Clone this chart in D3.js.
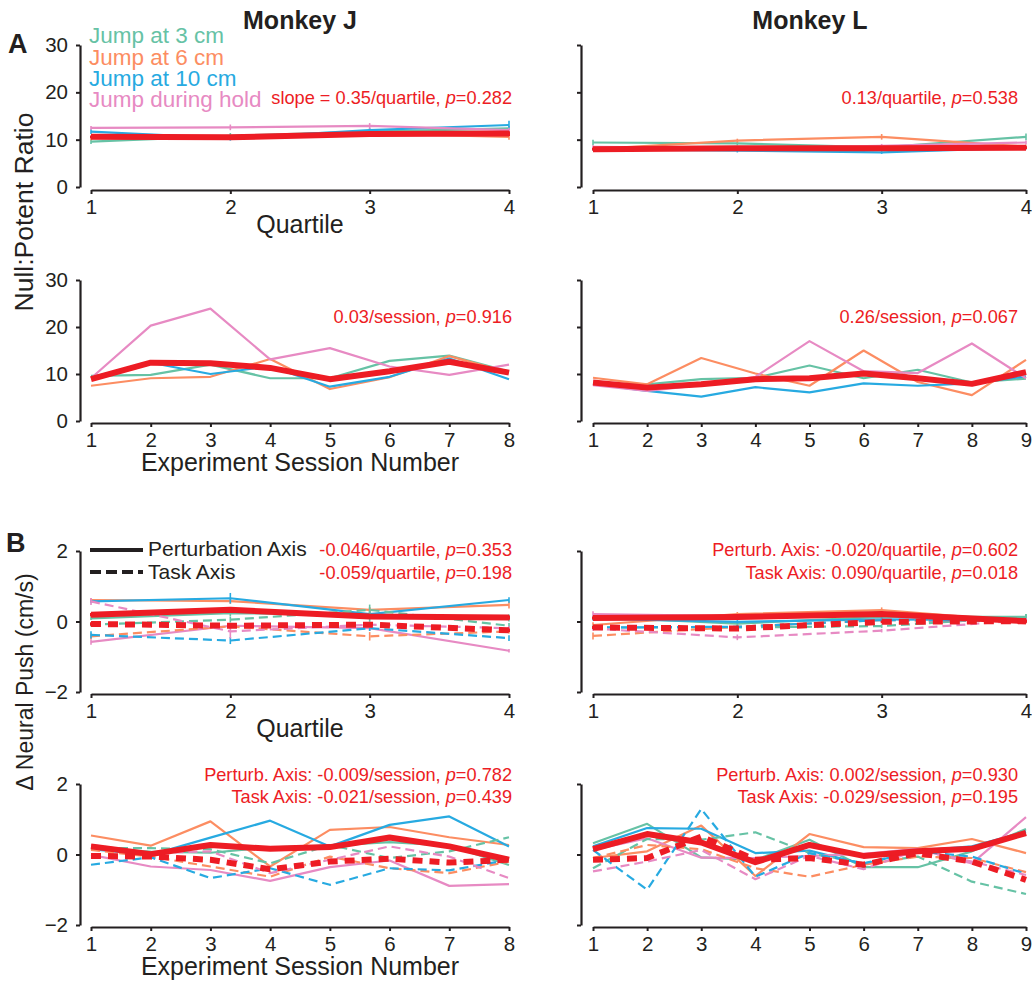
<!DOCTYPE html>
<html><head><meta charset="utf-8">
<script src="https://cdn.jsdelivr.net/npm/d3@7"></script>
<style>
body{margin:0;background:#fff}
text{font-family:"Liberation Sans",Arial,Helvetica,sans-serif}
</style>
</head><body>
<svg id="c" width="1032" height="981"></svg>
<script>
// ---------- labels ----------
const seriesNames = ["Jump at 3 cm", "Jump at 6 cm", "Jump at 10 cm", "Jump during hold"];
const monkeys = ["Monkey J", "Monkey L"];
const ratioTicks = [0, 10, 20, 30];
const pushTicks = [-2, 0, 2];
const quartiles = [1, 2, 3, 4];
const sessionsJ = [1, 2, 3, 4, 5, 6, 7, 8];
const sessionsL = [1, 2, 3, 4, 5, 6, 7, 8, 9];
const statRatioJq = ["slope = 0.35/quartile, ", "0.282"];
const statRatioLq = ["0.13/quartile, ", "0.538"];
const statRatioJs = ["0.03/session, ", "0.916"];
const statRatioLs = ["0.26/session, ", "0.067"];
const statPushJq = [["-0.046/quartile, ", "0.353"], ["-0.059/quartile, ", "0.198"]];
const statPushLq = [["Perturb. Axis: -0.020/quartile, ", "0.602"], ["Task Axis: 0.090/quartile, ", "0.018"]];
const statPushJs = [["Perturb. Axis: -0.009/session, ", "0.782"], ["Task Axis: -0.021/session, ", "0.439"]];
const statPushLs = [["Perturb. Axis: 0.002/session, ", "0.930"], ["Task Axis: -0.029/session, ", "0.195"]];

// ---------- A: Null:Potent ratio, Monkey J, quartiles ----------
const ratioJq_3cm  = [9.6, 10.8, 11.7, 12.4];
const ratioJq_6cm  = [10.3, 10.4, 11.3, 10.6];
const ratioJq_10cm = [11.7, 10.3, 12.0, 13.1];
const ratioJq_hold = [12.5, 12.6, 12.9, 12.0];
const ratioJq_mean = [10.6, 10.5, 11.2, 11.3];
const errRatioJq_3cm  = [0.5, 0.6, 0.5, 0.5];
const errRatioJq_6cm  = [0.4, 0.4, 0.5, 0.6];
const errRatioJq_10cm = [0.5, 0.5, 0.5, 0.9];
const errRatioJq_hold = [0.4, 0.6, 0.6, 0.5];
const errRatioJq_mean = [0.3, 0.3, 0.4, 0.5];
// Monkey L, quartiles
const ratioLq_3cm  = [9.4, 9.2, 8.4, 10.6];
const ratioLq_6cm  = [8.0, 9.8, 10.6, 8.5];
const ratioLq_10cm = [8.0, 7.7, 7.3, 8.3];
const ratioLq_hold = [8.5, 8.2, 8.7, 9.4];
const ratioLq_mean = [8.0, 8.2, 8.2, 8.3];
const errRatioLq_3cm  = [0.6, 0.4, 0.4, 0.7];
const errRatioLq_6cm  = [0.3, 0.4, 0.6, 0.4];
const errRatioLq_10cm = [0.3, 0.4, 0.3, 0.3];
const errRatioLq_hold = [0.3, 0.3, 0.4, 0.4];
const errRatioLq_mean = [0.3, 0.3, 0.3, 0.3];
// Monkey J, sessions
const ratioJs_3cm  = [9.6, 9.8, 12.0, 9.1, 9.1, 12.8, 13.9, 10.5];
const ratioJs_6cm  = [7.5, 9.1, 9.4, 13.2, 6.8, 9.3, 13.8, 10.3];
const ratioJs_10cm = [9.3, 12.4, 10.0, 11.6, 7.3, 9.4, 13.3, 8.9];
const ratioJs_hold = [9.1, 20.3, 23.9, 13.1, 15.5, 11.6, 9.8, 12.0];
const ratioJs_mean = [8.9, 12.4, 12.3, 11.3, 8.9, 10.6, 12.6, 10.3];
// Monkey L, sessions
const ratioLs_3cm  = [8.0, 7.8, 8.9, 9.2, 11.8, 9.1, 10.9, 8.2, 9.0];
const ratioLs_6cm  = [9.2, 7.8, 13.4, 10.1, 7.5, 15.0, 8.3, 5.5, 13.0];
const ratioLs_10cm = [7.9, 6.4, 5.2, 7.2, 6.1, 8.0, 7.5, 8.0, 9.5];
const ratioLs_hold = [7.6, 6.4, 7.6, 9.4, 17.0, 10.6, 10.2, 16.5, 9.1];
const ratioLs_mean = [8.2, 7.1, 7.8, 8.9, 9.1, 10.1, 9.1, 7.9, 10.4];

// ---------- B: delta neural push, Monkey J, quartiles ----------
const pertJq_3cm  = [0.09, 0.24, 0.19, 0.10];
const pertJq_6cm  = [0.61, 0.58, 0.33, 0.47];
const pertJq_10cm = [0.57, 0.66, 0.21, 0.61];
const pertJq_hold = [-0.58, -0.12, -0.19, -0.83];
const pertJq_mean = [0.19, 0.33, 0.14, 0.11];
const taskJq_3cm  = [-0.09, 0.05, 0.33, -0.12];
const taskJq_6cm  = [-0.42, -0.14, -0.42, -0.28];
const taskJq_10cm = [-0.38, -0.54, -0.19, -0.47];
const taskJq_hold = [0.57, -0.28, -0.09, -0.19];
const taskJq_mean = [-0.07, -0.12, -0.09, -0.25];
const errPertJq_3cm  = [0.05, 0.10, 0.20, 0.10];
const errPertJq_6cm  = [0.05, 0.08, 0.08, 0.10];
const errPertJq_10cm = [0.05, 0.15, 0.08, 0.08];
const errPertJq_hold = [0.08, 0.08, 0.08, 0.05];
const errPertJq_mean = [0.05, 0.08, 0.05, 0.06];
const errTaskJq_3cm  = [0.05, 0.08, 0.15, 0.08];
const errTaskJq_6cm  = [0.08, 0.08, 0.12, 0.06];
const errTaskJq_10cm = [0.10, 0.10, 0.08, 0.08];
const errTaskJq_hold = [0.10, 0.20, 0.08, 0.06];
const errTaskJq_mean = [0.05, 0.05, 0.05, 0.05];
// Monkey L, quartiles
const pertLq_3cm  = [0.13, -0.06, 0.13, 0.13];
const pertLq_6cm  = [-0.10, 0.21, 0.32, 0.00];
const pertLq_10cm = [0.08, -0.01, 0.06, 0.04];
const pertLq_hold = [0.21, 0.15, 0.20, 0.04];
const pertLq_mean = [0.10, 0.13, 0.21, 0.01];
const taskLq_3cm  = [-0.17, -0.17, -0.13, 0.13];
const taskLq_6cm  = [-0.41, -0.15, 0.04, 0.00];
const taskLq_10cm = [-0.17, -0.15, 0.04, 0.02];
const taskLq_hold = [-0.20, -0.45, -0.26, 0.04];
const taskLq_mean = [-0.17, -0.20, -0.01, 0.01];
const errPertLq_3cm  = [0.05, 0.05, 0.05, 0.08];
const errPertLq_6cm  = [0.08, 0.06, 0.08, 0.05];
const errPertLq_10cm = [0.05, 0.05, 0.06, 0.05];
const errPertLq_hold = [0.08, 0.05, 0.05, 0.05];
const errPertLq_mean = [0.04, 0.04, 0.04, 0.04];
const errTaskLq_3cm  = [0.05, 0.05, 0.05, 0.08];
const errTaskLq_6cm  = [0.10, 0.06, 0.06, 0.05];
const errTaskLq_10cm = [0.05, 0.05, 0.05, 0.05];
const errTaskLq_hold = [0.06, 0.08, 0.05, 0.05];
const errTaskLq_mean = [0.04, 0.04, 0.04, 0.04];
// Monkey J, sessions
const pertJs_3cm  = [0.15, 0.08, 0.05, 0.20, 0.25, 0.35, 0.25, -0.30];
const pertJs_6cm  = [0.54, 0.25, 0.94, -0.34, 0.70, 0.78, 0.49, 0.27];
const pertJs_10cm = [0.15, -0.01, 0.48, 0.96, 0.23, 0.84, 1.08, 0.23];
const pertJs_hold = [-0.01, -0.34, -0.44, -0.75, -0.36, -0.17, -0.89, -0.84];
const pertJs_mean = [0.23, 0.01, 0.27, 0.16, 0.21, 0.48, 0.23, -0.15];
const taskJs_3cm  = [0.18, 0.18, 0.15, -0.25, 0.27, -0.10, 0.09, 0.49];
const taskJs_6cm  = [0.13, -0.06, -0.34, -0.63, -0.06, -0.39, -0.53, -0.20];
const taskJs_10cm = [-0.29, -0.08, -0.67, -0.39, -0.86, -0.39, -0.45, -0.15];
const taskJs_hold = [0.27, 0.04, 0.09, -0.53, -0.15, 0.23, -0.06, -0.67];
const taskJs_mean = [-0.04, -0.06, -0.15, -0.42, -0.20, -0.12, -0.23, -0.15];
// Monkey L, sessions
const pertLs_3cm  = [0.32, 0.87, -0.08, -0.15, 0.42, -0.36, -0.36, 0.09, 0.72];
const pertLs_6cm  = [-0.10, 0.09, 0.82, -0.61, 0.58, 0.21, 0.18, 0.44, 0.04];
const pertLs_10cm = [0.23, 0.75, 0.73, 0.04, 0.11, -0.27, 0.11, 0.23, 0.65];
const pertLs_hold = [0.13, 0.46, -0.09, -0.10, -0.04, 0.02, 0.16, -0.25, 1.06];
const pertLs_mean = [0.15, 0.58, 0.34, -0.22, 0.27, -0.04, 0.09, 0.16, 0.61];
const taskLs_3cm  = [-0.39, 0.44, 0.42, 0.63, 0.04, -0.25, -0.06, -0.77, -1.12];
const taskLs_6cm  = [-0.10, 0.27, 0.15, -0.39, -0.63, -0.29, -0.06, -0.10, -0.50];
const taskLs_10cm = [0.13, -1.00, 1.29, -0.63, 0.04, -0.25, 0.09, -0.06, -0.55];
const taskLs_hold = [-0.48, -0.20, 0.13, -0.70, -0.04, -0.42, 0.13, -0.20, -0.58];
const taskLs_mean = [-0.15, -0.10, 0.51, -0.15, -0.10, -0.29, 0.04, -0.20, -0.72];

// ---------- styling ----------
const INK = "#231f20";
const C3 = "#66c2a5", C6 = "#fc8d62", C10 = "#27aae1", CH = "#e78ac3", CM = "#ed1c24";
const FONT = '"Liberation Sans", Arial, Helvetica, sans-serif';
const svg = d3.select("#c");

function drawPanel(p) {
  const g = svg.append("g");
  const x = d3.scaleLinear().domain([p.xs[0], p.xs[p.xs.length - 1]]).range(p.xr);
  const y = d3.scaleLinear().domain([p.yt[0], p.yt[p.yt.length - 1]]).range(p.yr);
  const ya = d3.axisLeft(y).tickValues(p.yt).tickSize(4).tickSizeOuter(0).tickPadding(8)
    .tickFormat(p.yLabels ? d3.format("d") : "");
  const yg = g.append("g").attr("transform", `translate(${p.ax},0)`).call(ya);
  const xa = d3.axisBottom(x).tickValues(p.xs).tickSize(4).tickSizeOuter(0).tickPadding(5).tickFormat(d3.format("d"));
  const xg = g.append("g").attr("transform", `translate(0,${p.ay})`).call(xa);
  [yg, xg].forEach(a => {
    a.select(".domain").attr("stroke", INK).attr("stroke-width", 2.2);
    a.selectAll(".tick line").attr("stroke", INK).attr("stroke-width", 2);
    a.selectAll(".tick text").attr("fill", INK).style("font-size", "20.5px").style("font-family", FONT);
  });
  const line = d3.line().x((d, i) => x(p.xs[i])).y(d => y(d)).curve(d3.curveLinear);
  p.series.forEach(s => {
    if (s.e) {
      s.v.forEach((v, i) => {
        g.append("line").attr("x1", x(p.xs[i])).attr("x2", x(p.xs[i]))
          .attr("y1", y(v - s.e[i])).attr("y2", y(v + s.e[i]))
          .attr("stroke", s.c).attr("stroke-width", s.thick ? 2 : 1.6);
      });
    }
    g.append("path").attr("d", line(s.v)).attr("fill", "none")
      .attr("stroke", s.c).attr("stroke-width", s.thick ? 6 : 2.2)
      .attr("stroke-linejoin", "round")
      .attr("stroke-dasharray", s.dash ? (s.thick ? "10,7" : "9,5") : null);
  });
}

function stat(xr, yb, parts, size) {
  const t = svg.append("text").attr("x", xr).attr("y", yb).attr("text-anchor", "end")
    .attr("fill", CM).style("font-size", size + "px");
  t.append("tspan").text(parts[0]);
  t.append("tspan").attr("font-style", "italic").text("p");
  t.append("tspan").text("=" + parts[1]);
}

const LX = [91, 509], RX = [593, 1026];
const rowA1 = {yr: [187, 45], ay: 190}, rowA2 = {yr: [421, 280], ay: 423};
const rowB1 = {yr: [692, 551], ay: 694}, rowB2 = {yr: [925, 784], ay: 927};

function mk(vals, errs, dash) {
  const cols = [C3, C6, C10, CH, CM];
  return vals.map((v, i) => ({v: v, e: errs ? errs[i] : null, c: cols[i], thick: i === 4, dash: dash}));
}

// Row A1
drawPanel({xs: quartiles, xr: LX, ax: 80, ...rowA1, yt: ratioTicks, yLabels: true,
  series: mk([ratioJq_3cm, ratioJq_6cm, ratioJq_10cm, ratioJq_hold, ratioJq_mean],
             [errRatioJq_3cm, errRatioJq_6cm, errRatioJq_10cm, errRatioJq_hold, errRatioJq_mean], false)});
drawPanel({xs: quartiles, xr: RX, ax: 581, ...rowA1, yt: ratioTicks, yLabels: false,
  series: mk([ratioLq_3cm, ratioLq_6cm, ratioLq_10cm, ratioLq_hold, ratioLq_mean],
             [errRatioLq_3cm, errRatioLq_6cm, errRatioLq_10cm, errRatioLq_hold, errRatioLq_mean], false)});
// Row A2
drawPanel({xs: sessionsJ, xr: LX, ax: 80, ...rowA2, yt: ratioTicks, yLabels: true,
  series: mk([ratioJs_3cm, ratioJs_6cm, ratioJs_10cm, ratioJs_hold, ratioJs_mean], null, false)});
drawPanel({xs: sessionsL, xr: RX, ax: 581, ...rowA2, yt: ratioTicks, yLabels: false,
  series: mk([ratioLs_3cm, ratioLs_6cm, ratioLs_10cm, ratioLs_hold, ratioLs_mean], null, false)});
// Row B1
function bSeries(pv, pe, tv, te) {
  const a = mk(pv, pe, false), b = mk(tv, te, true);
  return a.slice(0, 4).concat(b.slice(0, 4)).concat([a[4], b[4]]);
}
drawPanel({xs: quartiles, xr: LX, ax: 80, ...rowB1, yt: pushTicks, yLabels: true,
  series: bSeries([pertJq_3cm, pertJq_6cm, pertJq_10cm, pertJq_hold, pertJq_mean],
                  [errPertJq_3cm, errPertJq_6cm, errPertJq_10cm, errPertJq_hold, errPertJq_mean],
                  [taskJq_3cm, taskJq_6cm, taskJq_10cm, taskJq_hold, taskJq_mean],
                  [errTaskJq_3cm, errTaskJq_6cm, errTaskJq_10cm, errTaskJq_hold, errTaskJq_mean])});
drawPanel({xs: quartiles, xr: RX, ax: 581, ...rowB1, yt: pushTicks, yLabels: false,
  series: bSeries([pertLq_3cm, pertLq_6cm, pertLq_10cm, pertLq_hold, pertLq_mean],
                  [errPertLq_3cm, errPertLq_6cm, errPertLq_10cm, errPertLq_hold, errPertLq_mean],
                  [taskLq_3cm, taskLq_6cm, taskLq_10cm, taskLq_hold, taskLq_mean],
                  [errTaskLq_3cm, errTaskLq_6cm, errTaskLq_10cm, errTaskLq_hold, errTaskLq_mean])});
// Row B2
drawPanel({xs: sessionsJ, xr: LX, ax: 80, ...rowB2, yt: pushTicks, yLabels: true,
  series: bSeries([pertJs_3cm, pertJs_6cm, pertJs_10cm, pertJs_hold, pertJs_mean], null,
                  [taskJs_3cm, taskJs_6cm, taskJs_10cm, taskJs_hold, taskJs_mean], null)});
drawPanel({xs: sessionsL, xr: RX, ax: 581, ...rowB2, yt: pushTicks, yLabels: false,
  series: bSeries([pertLs_3cm, pertLs_6cm, pertLs_10cm, pertLs_hold, pertLs_mean], null,
                  [taskLs_3cm, taskLs_6cm, taskLs_10cm, taskLs_hold, taskLs_mean], null)});

// ---------- texts ----------
svg.append("text").attr("x", 8).attr("y", 53).attr("font-weight", "bold").style("font-size", "27px").attr("fill", INK).text("A");
svg.append("text").attr("x", 6).attr("y", 552).attr("font-weight", "bold").style("font-size", "27px").attr("fill", INK).text("B");
svg.append("text").attr("x", 300).attr("y", 29).attr("text-anchor", "middle").attr("font-weight", "bold").style("font-size", "25px").attr("fill", INK).text(monkeys[0]);
svg.append("text").attr("x", 810).attr("y", 29).attr("text-anchor", "middle").attr("font-weight", "bold").style("font-size", "25px").attr("fill", INK).text(monkeys[1]);

const legCols = [C3, C6, C10, CH], legY = [43, 64.5, 86, 107];
seriesNames.forEach((n, i) => {
  svg.append("text").attr("x", 89).attr("y", legY[i]).attr("fill", legCols[i]).style("font-size", "22.5px").text(n);
});

["Quartile", "Quartile"].forEach((t, i) => {
  svg.append("text").attr("x", 300).attr("y", [233, 737][i]).attr("text-anchor", "middle").attr("fill", INK).style("font-size", "25px").text(t);
});
[471, 975].forEach(yb => {
  svg.append("text").attr("x", 300).attr("y", yb).attr("text-anchor", "middle").attr("fill", INK).style("font-size", "25px").text("Experiment Session Number");
});
svg.append("text").attr("transform", "translate(33,212) rotate(-90)").attr("text-anchor", "middle").attr("fill", INK).style("font-size", "26.5px").text("Null:Potent Ratio");
svg.append("text").attr("transform", "translate(33,682) rotate(-90)").attr("text-anchor", "middle").attr("fill", INK).style("font-size", "23px").text("\u0394 Neural Push (cm/s)");

// B legend
svg.append("line").attr("x1", 90).attr("x2", 143).attr("y1", 550).attr("y2", 550).attr("stroke", INK).attr("stroke-width", 4);
svg.append("line").attr("x1", 90).attr("x2", 143).attr("y1", 572).attr("y2", 572).attr("stroke", INK).attr("stroke-width", 4).attr("stroke-dasharray", "11,5");
svg.append("text").attr("x", 148).attr("y", 556).attr("fill", INK).style("font-size", "21px").text("Perturbation Axis");
svg.append("text").attr("x", 148).attr("y", 579).attr("fill", INK).style("font-size", "21px").text("Task Axis");

// stats
const SS = 18.2;
stat(512, 104, statRatioJq, SS);
stat(1018, 104, statRatioLq, SS);
stat(512, 323, statRatioJs, SS);
stat(1018, 323, statRatioLs, SS);
stat(512, 556, statPushJq[0], SS); stat(512, 579, statPushJq[1], SS);
stat(1018, 556, statPushLq[0], SS); stat(1018, 579, statPushLq[1], SS);
stat(512, 781, statPushJs[0], SS); stat(512, 803, statPushJs[1], SS);
stat(1018, 781, statPushLs[0], SS); stat(1018, 803, statPushLs[1], SS);
</script>
</body></html>
